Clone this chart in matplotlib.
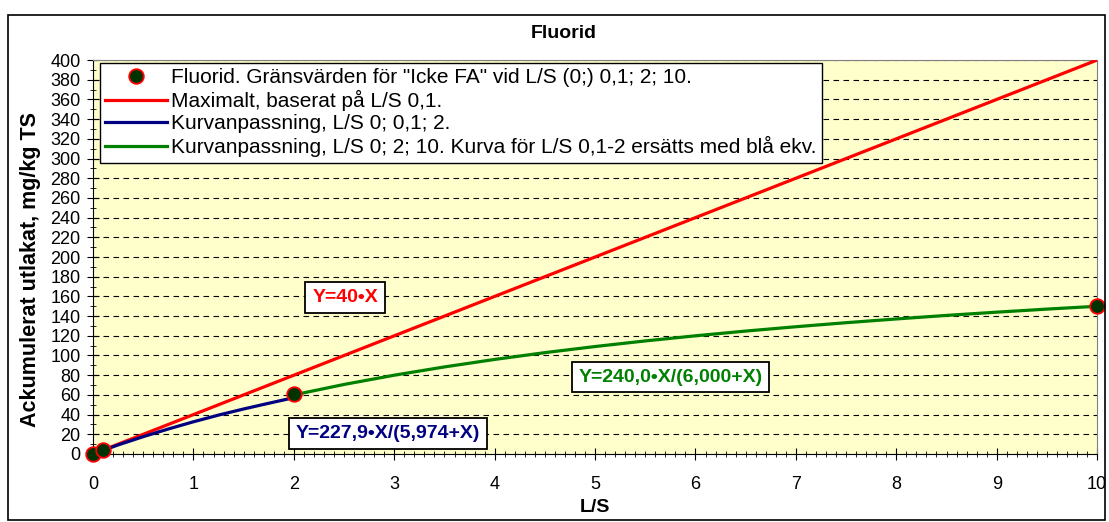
import matplotlib.pyplot as plt
from matplotlib.patches import Rectangle
from matplotlib.ticker import MultipleLocator

plt.rcParams["font.family"] = ["Liberation Sans", "DejaVu Sans"]

# measured points (L/S, mg/kg TS)
punkt_x = [0, 0.1, 2, 10]
punkt_y = [0, 4, 61, 150]

# red line, maximum based on L/S 0,1
max_x = [0, 10]
max_y = [0, 400]

# blue curve
bla_x = [0, 0.25, 0.5, 0.75, 1.0, 1.25, 1.5, 1.75, 2.0]
bla_y = [0, 9.2, 17.6, 25.4, 32.7, 39.5, 45.7, 51.5, 57.2]

# green curve
gron_x = [2, 2.5, 3, 3.5, 4, 4.5, 5, 5.5, 6, 6.5, 7, 7.5, 8, 8.5, 9, 9.5, 10]
gron_y = [60, 70.6, 80, 88.4, 96, 102.9, 109.1, 114.8, 120, 124.8,
          129.2, 133.3, 137.1, 140.7, 144, 147.1, 150]

fig = plt.figure(figsize=(11.09, 5.22), dpi=100)
ax = fig.add_axes([0.0839, 0.1303, 0.9054, 0.7547])
ax.set_facecolor("#FFFFCC")

ax.plot(max_x, max_y, color="#FF0000", lw=2.3,
        label="Maximalt, baserat på L/S 0,1.", zorder=3)
ax.plot(bla_x, bla_y, color="#000080", lw=2.3,
        label="Kurvanpassning, L/S 0; 0,1; 2.", zorder=3)
ax.plot(gron_x, gron_y, color="#008000", lw=2.3,
        label="Kurvanpassning, L/S 0; 2; 10. Kurva för L/S 0,1-2 ersätts med blå ekv.",
        zorder=3)
ax.plot(punkt_x, punkt_y, ls="none", marker="o", ms=10.5, mfc="#003300",
        mec="#FF0000", mew=1.3, clip_on=False, zorder=5,
        label='Fluorid. Gränsvärden för "Icke FA" vid L/S (0;) 0,1; 2; 10.')

ax.set_xlim(0, 10)
ax.set_ylim(0, 400)
ax.xaxis.set_major_locator(MultipleLocator(1))
ax.xaxis.set_minor_locator(MultipleLocator(0.1))
ax.yaxis.set_major_locator(MultipleLocator(20))
ax.yaxis.set_minor_locator(MultipleLocator(10))
ax.tick_params(which="major", direction="inout", length=8, labelsize=13)
ax.tick_params(axis="x", which="major", pad=12)
ax.tick_params(axis="y", which="major", pad=5)
ax.tick_params(which="minor", direction="inout", length=5)
ax.grid(True, axis="y", ls=(0, (5, 4)), color="black", lw=0.8)
ax.set_axisbelow(True)

for s in ["top", "right"]:
    ax.spines[s].set_color("#808080")

fig.text(564 / 1109, 1 - 33 / 522, "Fluorid", fontsize=14, fontweight="bold",
         ha="center", va="center")
ax.set_xlabel("L/S", fontsize=14, fontweight="bold", labelpad=4)
ax.set_ylabel("Ackumulerat utlakat, mg/kg TS", fontsize=15.5, fontweight="bold")
ax.yaxis.set_label_coords(-0.052, 0.467)

handles, labels = ax.get_legend_handles_labels()
order = [3, 0, 1, 2]
leg = ax.legend([handles[i] for i in order], [labels[i] for i in order],
                loc="upper left", bbox_to_anchor=(0.0065, 0.993), fontsize=15,
                fancybox=False, framealpha=1, edgecolor="black",
                handlelength=3.0, handletextpad=0.2, borderpad=0.25,
                labelspacing=0.15, borderaxespad=0)
leg.get_frame().set_linewidth(1.0)

box = dict(boxstyle="square,pad=0.35", fc="white", ec="black", lw=1.3)
ax.text(2.51, 159, "Y=40•X", color="#FF0000", fontsize=14, fontweight="bold",
        ha="center", va="center", bbox=box, zorder=6)
ax.text(2.94, 21, "Y=227,9•X/(5,974+X)", color="#000080", fontsize=14,
        fontweight="bold", ha="center", va="center", bbox=box, zorder=6)
ax.text(5.75, 78, "Y=240,0•X/(6,000+X)", color="#008000", fontsize=14,
        fontweight="bold", ha="center", va="center", bbox=box, zorder=6)

fig.patches.append(Rectangle((8 / 1109, 2 / 522), 1097 / 1109, 505 / 522,
                             transform=fig.transFigure, fill=False,
                             ec="black", lw=1.2))

fig.savefig("out.png", dpi=100)
